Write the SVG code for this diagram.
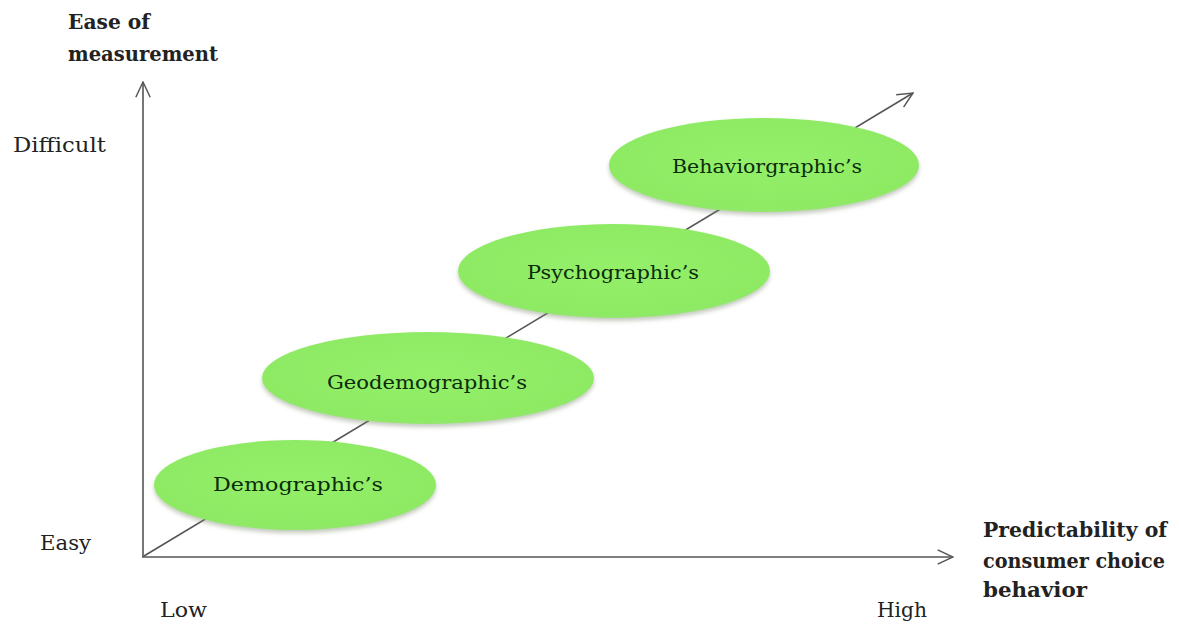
<svg xmlns="http://www.w3.org/2000/svg" width="1179" height="624" viewBox="0 0 1179 624">
<style>
.lbl{font-family:"DejaVu Serif","Liberation Serif",serif;font-size:21px;fill:#222}
.ttl{font-family:"DejaVu Serif","Liberation Serif",serif;font-size:20px;font-weight:bold;fill:#222}
.nt{font-family:"DejaVu Serif","Liberation Serif",serif;font-size:18px;fill:#0a2c0a}
.el{fill:url(#g);filter:url(#sh)}
.ax{stroke:#555;stroke-width:1.6;fill:none}
</style>
<defs>
<radialGradient id="g" cx="0.5" cy="0.45" r="0.6">
<stop offset="0" stop-color="#94f068"/>
<stop offset="0.85" stop-color="#8eea64"/>
<stop offset="1" stop-color="#9ae07a"/>
</radialGradient>
<filter id="sh" x="-10%" y="-20%" width="120%" height="150%">
<feDropShadow dx="0" dy="3" stdDeviation="2" flood-color="#7a8a70" flood-opacity="0.45"/>
</filter>
<marker id="ah2" viewBox="0 0 20 20" refX="19" refY="10" markerWidth="18" markerHeight="18" markerUnits="userSpaceOnUse" orient="auto">
<path d="M2,2 L19,10 L2,18" fill="none" stroke="#555" stroke-width="1.6"/>
</marker>
</defs>
<g id="connectors">
<line class="ax" x1="143" y1="557" x2="143" y2="82" marker-end="url(#ah2)"/>
<line class="ax" x1="142" y1="557" x2="953" y2="557" marker-end="url(#ah2)"/>
<line class="ax" x1="144" y1="556" x2="913" y2="93" marker-end="url(#ah2)"/>
</g>
<g id="labels">
<text class="ttl" x="68" y="29" textLength="82" lengthAdjust="spacingAndGlyphs">Ease of</text>
<text class="ttl" x="68" y="61" textLength="150" lengthAdjust="spacingAndGlyphs">measurement</text>
<text class="lbl" x="13" y="152" textLength="93" lengthAdjust="spacingAndGlyphs">Difficult</text>
<text class="lbl" x="40" y="550" textLength="51" lengthAdjust="spacingAndGlyphs">Easy</text>
<text class="lbl" x="160" y="617" textLength="47" lengthAdjust="spacingAndGlyphs">Low</text>
<text class="lbl" x="877" y="617" textLength="50" lengthAdjust="spacingAndGlyphs">High</text>
<text class="ttl" x="983" y="537" textLength="184" lengthAdjust="spacingAndGlyphs">Predictability of</text>
<text class="ttl" x="983" y="568" textLength="182" lengthAdjust="spacingAndGlyphs">consumer choice</text>
<text class="ttl" x="983" y="597" textLength="104" lengthAdjust="spacingAndGlyphs">behavior</text>
</g>
<g id="node-demographic">
<ellipse class="el" cx="295" cy="485" rx="141" ry="45"/>
<text class="nt" x="213" y="491" textLength="170" lengthAdjust="spacingAndGlyphs">Demographic’s</text>
</g>
<g id="node-geodemographic">
<ellipse class="el" cx="428" cy="378" rx="166" ry="46"/>
<text class="nt" x="327" y="389" textLength="200" lengthAdjust="spacingAndGlyphs">Geodemographic’s</text>
</g>
<g id="node-psychographic">
<ellipse class="el" cx="614" cy="271" rx="156" ry="47"/>
<text class="nt" x="527" y="279" textLength="172" lengthAdjust="spacingAndGlyphs">Psychographic’s</text>
</g>
<g id="node-behaviorgraphic">
<ellipse class="el" cx="764" cy="165" rx="155" ry="47"/>
<text class="nt" x="672" y="173" textLength="190" lengthAdjust="spacingAndGlyphs">Behaviorgraphic’s</text>
</g>
</svg>
